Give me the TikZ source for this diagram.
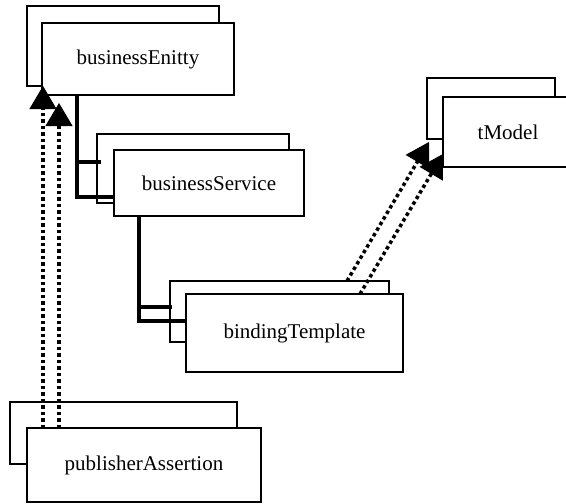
\documentclass[tikz,border=0pt]{standalone}
\usepackage{fontspec}
\setmainfont{Liberation Serif}
\usetikzlibrary{arrows.meta}
\tikzstyle{back}=[rectangle,
draw,
line width=1.5pt,
fill=white,
outer sep=0pt,
anchor=north west]
\tikzstyle{front}=[rectangle,
draw,
line width=1.5pt,
fill=white,
outer sep=0pt,
anchor=north west,
font=\fontsize{21}{25}\selectfont]
\tikzstyle{link}=[line width=3.5pt]
\tikzstyle{ref}=[line width=3.5pt,
dash pattern=on 3.5pt off 3pt,
-{Triangle[length=23pt,width=27pt,line width=1pt]}]

\begin{document}
\begin{tikzpicture}[x=1pt,y=-1pt]
	\useasboundingbox (0,0) rectangle (566,504);

	% Each entity is a stacked pair of boxes: a back one and a front one.
	\node (be_back) [back, minimum width=192pt, minimum height=80pt] at (27,6) {};
	\node (be)      [front, minimum width=192pt, minimum height=72pt] at (42,23) {businessEnitty};

	\node (bs_back) [back, minimum width=192pt, minimum height=69pt] at (97,134) {};
	\node (bs)      [front, minimum width=190pt, minimum height=66pt] at (114,150) {businessService};

	\node (bt_back) [back, minimum width=219pt, minimum height=61pt] at (170,281) {};
	\node (bt)      [front, minimum width=217pt, minimum height=78pt] at (186,294) {bindingTemplate};

	\node (tm_back) [back, minimum width=128pt, minimum height=61pt] at (427,78) {};
	\node (tm)      [front, minimum width=130pt, minimum height=70pt] at (443,97) {tModel};

	\node (pa_back) [back, minimum width=227pt, minimum height=62pt] at (10,402) {};
	\node (pa)      [front, minimum width=234pt, minimum height=74pt] at (27,428) {publisherAssertion};

	% Containment: solid elbow lines from parent to child.
	\draw[link] ([xshift=35pt]be.south west) |- ([xshift=4pt,yshift=-28pt]bs_back.north west);
	\draw[link] ([xshift=35pt]be.south west) |- ([yshift=19pt]bs.south west);
	\draw[link] ([xshift=25pt]bs.south west) |- ([xshift=2pt,yshift=-26pt]bt_back.north west);
	\draw[link] ([xshift=25pt]bs.south west) |- ([yshift=-27pt]bt.north west);

	% References: dotted arrows.
	\draw[ref] ([xshift=16pt]pa.north west) -- ([xshift=16pt]be_back.south west);
	\draw[ref] ([xshift=32pt]pa.north west) -- ([xshift=17pt,yshift=-8pt]be.south west);
	\draw[ref] ([xshift=177pt]bt_back.north west) -- ([xshift=2pt,yshift=-3pt]tm_back.south west);
	\draw[ref] ([xshift=174pt]bt.north west) -- ([yshift=13pt]tm.south west);
\end{tikzpicture}
\end{document}
